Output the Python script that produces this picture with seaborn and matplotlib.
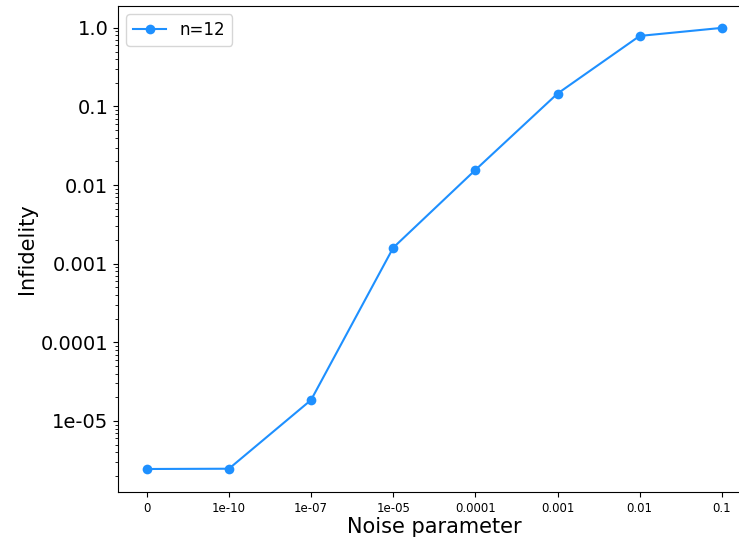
import matplotlib
matplotlib.use("Agg")
import matplotlib.pyplot as plt
import matplotlib.ticker as mticker
import numpy as np
import pandas as pd
import seaborn as sns

# Noise levels (categorical axis) and the measured infidelity for n=12
noise_labels = ["0", "1e-10", "1e-07", "1e-05", "0.0001", "0.001", "0.01", "0.1"]
infidelity = [2.45e-6, 2.47e-6, 1.85e-5, 1.6e-3, 0.0156, 0.146, 0.79, 1.0]
series_name = "n=12"

df = pd.DataFrame({"noise": noise_labels, "infidelity": infidelity, "series": series_name})

plt.rcParams["font.family"] = ["DejaVu Sans"]

fig = plt.figure(figsize=(7.39, 5.42), dpi=100)
ax = fig.add_axes([0.1597, 0.0923, 0.856, 0.8967])

sns.lineplot(data=df, x="noise", y="infidelity", hue="series", palette=["#1E90FF"],
             marker="o", markersize=7, markeredgewidth=0, linewidth=1.5, ax=ax, sort=False)

y_lo, y_hi = 1.25e-6, 1.9
ax.set_yscale("log")
ax.set_ylim(y_lo, y_hi)
ax.yaxis.set_major_locator(mticker.LogLocator(base=10))
ax.yaxis.set_minor_locator(mticker.LogLocator(base=10, subs=np.arange(2, 10)))
ax.yaxis.set_major_formatter(
    mticker.FuncFormatter(lambda v, _: str(v) if y_lo <= v <= y_hi else ""))
ax.yaxis.set_minor_formatter(mticker.NullFormatter())

ax.tick_params(axis="y", labelsize=14)
ax.tick_params(axis="x", labelsize=8.5)
ax.set_xlabel("Noise parameter", fontsize=15, labelpad=2)
ax.set_ylabel("Infidelity", fontsize=15, labelpad=3)

ax.legend(loc="upper left", fontsize=12, frameon=True)

fig.savefig("out.png", dpi=100)
